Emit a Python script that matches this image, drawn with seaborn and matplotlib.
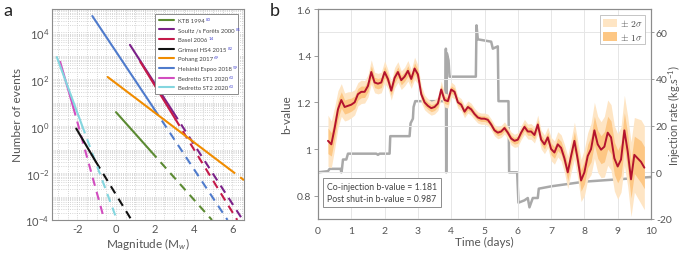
import numpy as np
import pandas as pd
import matplotlib
matplotlib.use("Agg")
import matplotlib.pyplot as plt
import seaborn as sns
from matplotlib.ticker import FixedLocator, MultipleLocator, LogLocator, NullFormatter, FixedFormatter

# ---------------- Panel a data ----------------
catalogs = ["KTB 1994", "Soultz /s Forêts 2000", "Basel 2006", "Grimsel HS4 2015",
            "Pohang 2017", "Helsinki Espoo 2018", "Bedretto ST1 2020", "Bedretto ST2 2020"]
refs = ["80", "81", "14", "82", "69", "59", "63", "63"]
cat_colors = ["#5b8a32", "#7b2188", "#c41a4a", "#111111", "#f08c00", "#4f7bcc", "#d24dbf", "#84d6df"]
m_start = [0.0, 0.72, 1.25, -2.05, -0.43, -1.22, -2.88, -3.05]
logn_start = [0.6, 3.47, 2.75, -0.1, 2.1, 4.7, 2.75, 2.95]
m_break = [1.8, 2.95, 3.05, -1.05, 5.8, 1.95, -2.2, -1.75]
logn_break = [-1.07, 0.6, 0.32, -1.5, -1.8, 0.76, 0.8, 0.03]
m_end = [4.95, 6.5, 6.25, 0.8, 6.6, 5.75, -0.6, 0.05]
logn_end = [-4.0, -3.95, -4.0, -4.0, -2.3, -4.0, -4.0, -4.0]

# ---------------- Panel b data ----------------
time_days = np.round(np.arange(0.3, 9.85, 0.1), 1)
b_value = [1.035, 1.02, 1.09, 1.17, 1.21, 1.18, 1.185,
           1.19, 1.20, 1.235, 1.245, 1.245, 1.27, 1.33, 1.285, 1.28, 1.285,
           1.33, 1.30, 1.25, 1.305, 1.33, 1.295, 1.31, 1.335, 1.30, 1.345,
           1.32, 1.235, 1.20, 1.185, 1.175, 1.18, 1.195, 1.255, 1.21, 1.205,
           1.255, 1.245, 1.20, 1.19, 1.16, 1.18, 1.17, 1.15, 1.135, 1.13,
           1.13, 1.125, 1.105, 1.08, 1.07, 1.075, 1.09, 1.07, 1.045, 1.035,
           1.04, 1.07, 1.095, 1.075, 1.075, 1.06, 1.105, 1.04, 1.02, 1.05,
           1.00, 0.985, 1.02, 1.005, 0.96, 0.90, 0.97, 1.035, 0.955, 0.865,
           0.90, 0.97, 1.00, 1.08, 1.02, 0.997, 1.01, 1.07, 1.05, 0.96,
           0.925, 0.955, 1.08, 0.99, 0.87, 0.975, 0.96, 0.945, 0.92]
b_sigma = [0.055, 0.05, 0.045, 0.04, 0.035, 0.03, 0.03,
           0.028, 0.027, 0.025, 0.025, 0.024, 0.024, 0.026, 0.022, 0.022, 0.022,
           0.024, 0.02, 0.02, 0.022, 0.022, 0.02, 0.02, 0.022, 0.02, 0.024,
           0.02, 0.018, 0.016, 0.015, 0.015, 0.015, 0.015, 0.018, 0.015, 0.015,
           0.016, 0.015, 0.013, 0.013, 0.013, 0.013, 0.013, 0.012, 0.012, 0.012,
           0.012, 0.012, 0.012, 0.012, 0.013, 0.013, 0.013, 0.013, 0.014, 0.014,
           0.015, 0.015, 0.016, 0.016, 0.017, 0.017, 0.02, 0.02, 0.02, 0.022,
           0.025, 0.025, 0.027, 0.028, 0.03, 0.035, 0.035, 0.04, 0.04, 0.045,
           0.05, 0.05, 0.055, 0.06, 0.06, 0.06, 0.065, 0.07, 0.07, 0.07,
           0.07, 0.07, 0.075, 0.075, 0.08, 0.08, 0.085, 0.09, 0.09]
inj_time = [0.0, 0.3, 0.35, 0.68, 0.7, 0.72, 0.75, 0.85, 0.9, 1.75, 1.8, 1.85, 2.15, 2.17,
            2.75, 2.78, 2.85, 2.87, 2.92, 3.83, 3.84, 3.85, 3.87, 3.92, 3.95, 4.74, 4.76,
            4.8, 5.2, 5.25, 5.4, 5.42, 5.72, 5.74, 5.98, 6.02, 6.2, 6.3, 6.35, 6.45, 6.6,
            6.63, 7.0, 7.5, 8.0, 8.5, 9.0, 9.5, 10.0]
inj_rate = [0.0, 0.5, 1.5, 1.5, 0.0, 1.5, 5.5, 5.5, 8.0, 8.0, 7.5, 8.0, 8.0, 15.5,
            15.5, 21.0, 23.0, 28.0, 30.5, 30.5, 53.0, 0.0, 51.0, 48.0, 41.0, 41.0, 63.0,
            57.0, 56.0, 53.0, 54.0, 30.5, 30.5, 0.0, 0.0, -13.0, -12.0, -11.0, -15.0, -11.0, -11.0,
            -7.0, -6.0, -5.0, -4.0, -3.5, -3.0, -2.5, -2.0]
co_injection_b = 1.181
post_shutin_b = 0.987

# ---------------- Style ----------------
sns.set_theme(style="white")
plt.rcParams["font.family"] = ["Lato", "DejaVu Sans"]
plt.rcParams["mathtext.fontset"] = "custom"
plt.rcParams["mathtext.rm"] = "Lato"
plt.rcParams["mathtext.it"] = "Lato:italic"
plt.rcParams["mathtext.bf"] = "Lato:bold"
plt.rcParams["axes.unicode_minus"] = False
txt_col = "#555555"
spine_col = "#8c8c8c"

fig = plt.figure(figsize=(6.85, 2.55), dpi=100)
axa = fig.add_axes([52 / 685, 34 / 255, 192 / 685, 211 / 255])
axb = fig.add_axes([318 / 685, 35 / 255, 333 / 685, 210 / 255])

# ---------------- Panel a ----------------
solid_rows, dash_rows = [], []
for i, name in enumerate(catalogs):
    solid_rows += [dict(cat=name, M=m_start[i], N=10 ** logn_start[i]),
                   dict(cat=name, M=m_break[i], N=10 ** logn_break[i])]
    dash_rows += [dict(cat=name, M=m_break[i], N=10 ** logn_break[i]),
                  dict(cat=name, M=m_end[i], N=10 ** logn_end[i])]
df_solid = pd.DataFrame(solid_rows)
df_dash = pd.DataFrame(dash_rows)
pal = dict(zip(catalogs, cat_colors))

sns.lineplot(data=df_dash, x="M", y="N", hue="cat", palette=pal, hue_order=catalogs,
             estimator=None, sort=False, lw=1.5, dashes=False, legend=False, ax=axa)
for ln in axa.get_lines():
    ln.set_dashes([4, 3])
sns.lineplot(data=df_solid, x="M", y="N", hue="cat", palette=pal, hue_order=catalogs,
             estimator=None, sort=False, lw=1.5, legend=False, ax=axa)
axa.set_yscale("log")
axa.set_xlim(-3.3, 6.6)
axa.set_ylim(1e-4, 1e5)
axa.yaxis.set_major_locator(FixedLocator([1e-4, 1e-2, 1e0, 1e2, 1e4]))
axa.yaxis.set_major_formatter(FixedFormatter(["10$^{-4}$", "10$^{-2}$", "10$^{0}$", "10$^{2}$", "10$^{4}$"]))
axa.yaxis.set_minor_locator(LogLocator(base=10, subs=np.arange(1, 10), numticks=30))
axa.yaxis.set_minor_formatter(NullFormatter())
axa.xaxis.set_major_locator(FixedLocator([-2, 0, 2, 4, 6]))
axa.xaxis.set_minor_locator(MultipleLocator(0.5))
axa.grid(which="both", linestyle=":", color="#c8c8c8", lw=0.6)
axa.tick_params(which="both", length=0, labelsize=8, labelcolor=txt_col, pad=2)
axa.set_xlabel("Magnitude (M$_w$)", fontsize=8.5, color=txt_col, labelpad=1)
axa.set_ylabel("Number of events", fontsize=8.5, color=txt_col, labelpad=2)
for s in axa.spines.values():
    s.set_color(spine_col)
    s.set_linewidth(0.8)

handles = [plt.Line2D([], [], color=c, lw=1.5) for c in cat_colors]
lega = axa.legend(handles, catalogs, loc="upper right", fontsize=4.3, frameon=True,
                  fancybox=False, edgecolor=spine_col, framealpha=1, handlelength=2.6,
                  labelspacing=0.75, borderpad=0.6, handletextpad=0.6,
                  bbox_to_anchor=(0.985, 0.99))
lega.get_frame().set_linewidth(0.7)
for t in lega.get_texts():
    t.set_color("#444444")

# ---------------- Panel b ----------------
axr = axb.twinx()
axb.set_zorder(axr.get_zorder() + 1)
axb.patch.set_visible(False)

bv = np.array(b_value)
sg = np.array(b_sigma)
axb.fill_between(time_days, bv - 2 * sg, bv + 2 * sg, color="#fee5c4", lw=0, label="$\\pm\\ 2\\sigma$")
axb.fill_between(time_days, bv - sg, bv + sg, color="#fdc784", lw=0, label="$\\pm\\ 1\\sigma$")
df_b = pd.DataFrame({"t": time_days, "b": bv})
sns.lineplot(data=df_b, x="t", y="b", color="#b3132e", lw=1.4, estimator=None, ax=axb)

df_inj = pd.DataFrame({"t": inj_time, "r": inj_rate})
sns.lineplot(data=df_inj, x="t", y="r", color="#a9a9a9", lw=1.8, estimator=None, sort=False, ax=axr)

axb.set_xlim(0, 10)
axb.set_ylim(0.7, 1.6)
axr.set_ylim(-20, 70)
axb.set_xticks(range(0, 11))
axb.set_yticks([0.8, 1.0, 1.2, 1.4, 1.6])
axb.set_yticklabels(["0.8", "1", "1.2", "1.4", "1.6"])
axb.set_yticks([0.9, 1.1, 1.3, 1.5], minor=True)
axr.set_yticks([-20, 0, 20, 40, 60])
axb.grid(which="major", axis="x", color="#e6e6e6", lw=0.7)
axb.grid(which="minor", axis="y", color="#e6e6e6", lw=0.7)
axr.grid(False)
axb.tick_params(axis="both", which="major", direction="out", length=3, width=0.6,
                color=spine_col, labelsize=7.5, labelcolor=txt_col, pad=2)
axb.tick_params(axis="y", which="minor", length=0)
axr.tick_params(axis="y", direction="out", length=2.5, width=0.6, color=spine_col,
                labelsize=7.5, labelcolor=txt_col, pad=1)
axb.set_xlabel("Time (days)", fontsize=8.5, color=txt_col, labelpad=1)
axb.set_ylabel("b-value", fontsize=8.5, color=txt_col, labelpad=3)
axr.set_ylabel("")
fig.text(675 / 685, (35 + 105) / 255, "Injection rate (kg.s$^{-1}$)", fontsize=7.8,
         color=txt_col, rotation=90, ha="center", va="center")
for a in (axb, axr):
    for s in a.spines.values():
        s.set_color(spine_col)
        s.set_linewidth(0.8)

legb = axb.legend(loc="upper right", fontsize=7, frameon=True, fancybox=False,
                  edgecolor="#bbbbbb", framealpha=1, handlelength=1.5, handleheight=1.0,
                  handletextpad=0.3, borderpad=0.25, labelspacing=0.25,
                  bbox_to_anchor=(0.998, 0.995))
legb.get_frame().set_linewidth(0.6)
for t in legb.get_texts():
    t.set_math_fontfamily("cm")
    t.set_color("#444444")

axb.text(0.028, 0.075,
         f"Co-injection b-value = {co_injection_b:.3f}\nPost shut-in b-value = {post_shutin_b:.3f}",
         transform=axb.transAxes, fontsize=6.3, color="#444444", va="bottom", ha="left",
         linespacing=1.5,
         bbox=dict(boxstyle="square,pad=0.45", fc="white", ec="#8c8c8c", lw=0.7))

# panel letters
fig.text(3 / 685, 1 - 11 / 255, "a", fontsize=13, color="#222222", va="center")
fig.text(270 / 685, 1 - 11 / 255, "b", fontsize=13, color="#222222", va="center")

# blue superscript reference numbers in legend a
fig.canvas.draw()
inv = fig.transFigure.inverted()
for t, r in zip(lega.get_texts(), refs):
    bb = t.get_window_extent()
    x, y = inv.transform((bb.x1 + 1, bb.y1 + 1))
    fig.text(x, y, r, fontsize=3.2, color="#4a4ad0", va="top", ha="left")

fig.savefig("out.png", dpi=100)
